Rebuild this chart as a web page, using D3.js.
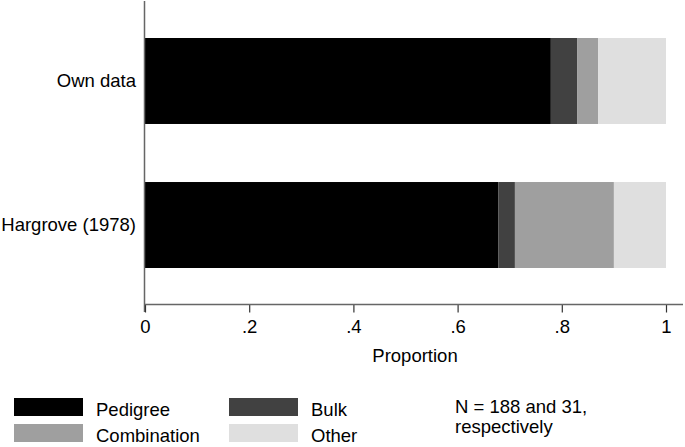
<!DOCTYPE html>
<html><head><meta charset="utf-8">
<script src="https://cdn.jsdelivr.net/npm/d3@7"></script>
<style>body{margin:0;background:#fff}svg{display:block}text{font-family:"Liberation Sans",Arial,sans-serif;fill:#000}</style>
</head><body><svg id="c" width="685" height="447"></svg>
<script>
const groups = ["Own data", "Hargrove (1978)"];
const seriesNames = ["Pedigree", "Bulk", "Combination", "Other"];
const pedigree = [0.779, 0.678];
const bulk = [0.051, 0.032];
const combination = [0.040, 0.190];
const other = [0.130, 0.100];
const tickValues = [0, 0.2, 0.4, 0.6, 0.8, 1];
const tickLabels = ["0", ".2", ".4", ".6", ".8", "1"];
const colors = ["#000000", "#414141", "#9f9f9f", "#dfdfdf"];
const note = ["N = 188 and 31,", "respectively"];

const FS = 18.5;
const rows = groups.map((g, i) => ({group: g, Pedigree: pedigree[i], Bulk: bulk[i], Combination: combination[i], Other: other[i]}));
const stacked = d3.stack().keys(seriesNames)(rows);

const svg = d3.select("#c");
const x = d3.scaleLinear().domain([0, 1]).range([145, 666]);
const y = d3.scaleBand().domain(groups).range([9.2, 296.8]).paddingInner(0.403).paddingOuter(0.2);
const color = d3.scaleOrdinal().domain(seriesNames).range(colors);

svg.append("g").selectAll("g").data(stacked).join("g")
  .attr("fill", d => color(d.key))
  .selectAll("rect").data(d => d).join("rect")
  .attr("x", d => x(d[0])).attr("width", d => x(d[1]) - x(d[0]))
  .attr("y", d => y(d.data.group)).attr("height", y.bandwidth());

// y axis line
svg.append("line").attr("x1", 144.5).attr("x2", 144.5).attr("y1", 1).attr("y2", 312)
  .attr("stroke", "#666").attr("stroke-width", 1.5);
// x axis
const xAxis = d3.axisBottom(x).tickValues(tickValues).tickFormat((d, i) => tickLabels[i]).tickSize(8).tickPadding(7).tickSizeOuter(0);
const gx = svg.append("g").attr("transform", "translate(0,304.5)").call(xAxis);
gx.select(".domain").remove();
gx.append("line").attr("x1", 144).attr("x2", 683).attr("stroke", "#666").attr("stroke-width", 1.5);
gx.selectAll(".tick line").attr("stroke", "#333").attr("stroke-width", 1.2);
gx.selectAll(".tick text").attr("font-size", FS).attr("fill", "#000").style("font-family", '"Liberation Sans",Arial,sans-serif');

// y labels
svg.append("g").selectAll("text").data(groups).join("text")
  .attr("x", 136).attr("y", d => y(d) + y.bandwidth() / 2).attr("dy", "0.35em")
  .attr("text-anchor", "end").attr("font-size", FS).text(d => d);

svg.append("text").attr("x", 415).attr("y", 362).attr("text-anchor", "middle").attr("font-size", FS).text("Proportion");

// legend
const legPos = [[14, 398], [229, 398], [14, 424], [229, 424]];
const order = ["Pedigree", "Bulk", "Combination", "Other"];
const leg = svg.append("g").selectAll("g").data(order).join("g")
  .attr("transform", (d, i) => `translate(${legPos[i][0]},${legPos[i][1]})`);
leg.append("rect").attr("width", 69).attr("height", 18).attr("fill", d => color(d));
leg.append("text").attr("x", 82).attr("y", 17.5).attr("font-size", FS).text(d => d);

svg.append("g").selectAll("text").data(note).join("text")
  .attr("x", 455).attr("y", (d, i) => 413 + i * 19.5).attr("font-size", FS).text(d => d);
</script></body></html>
